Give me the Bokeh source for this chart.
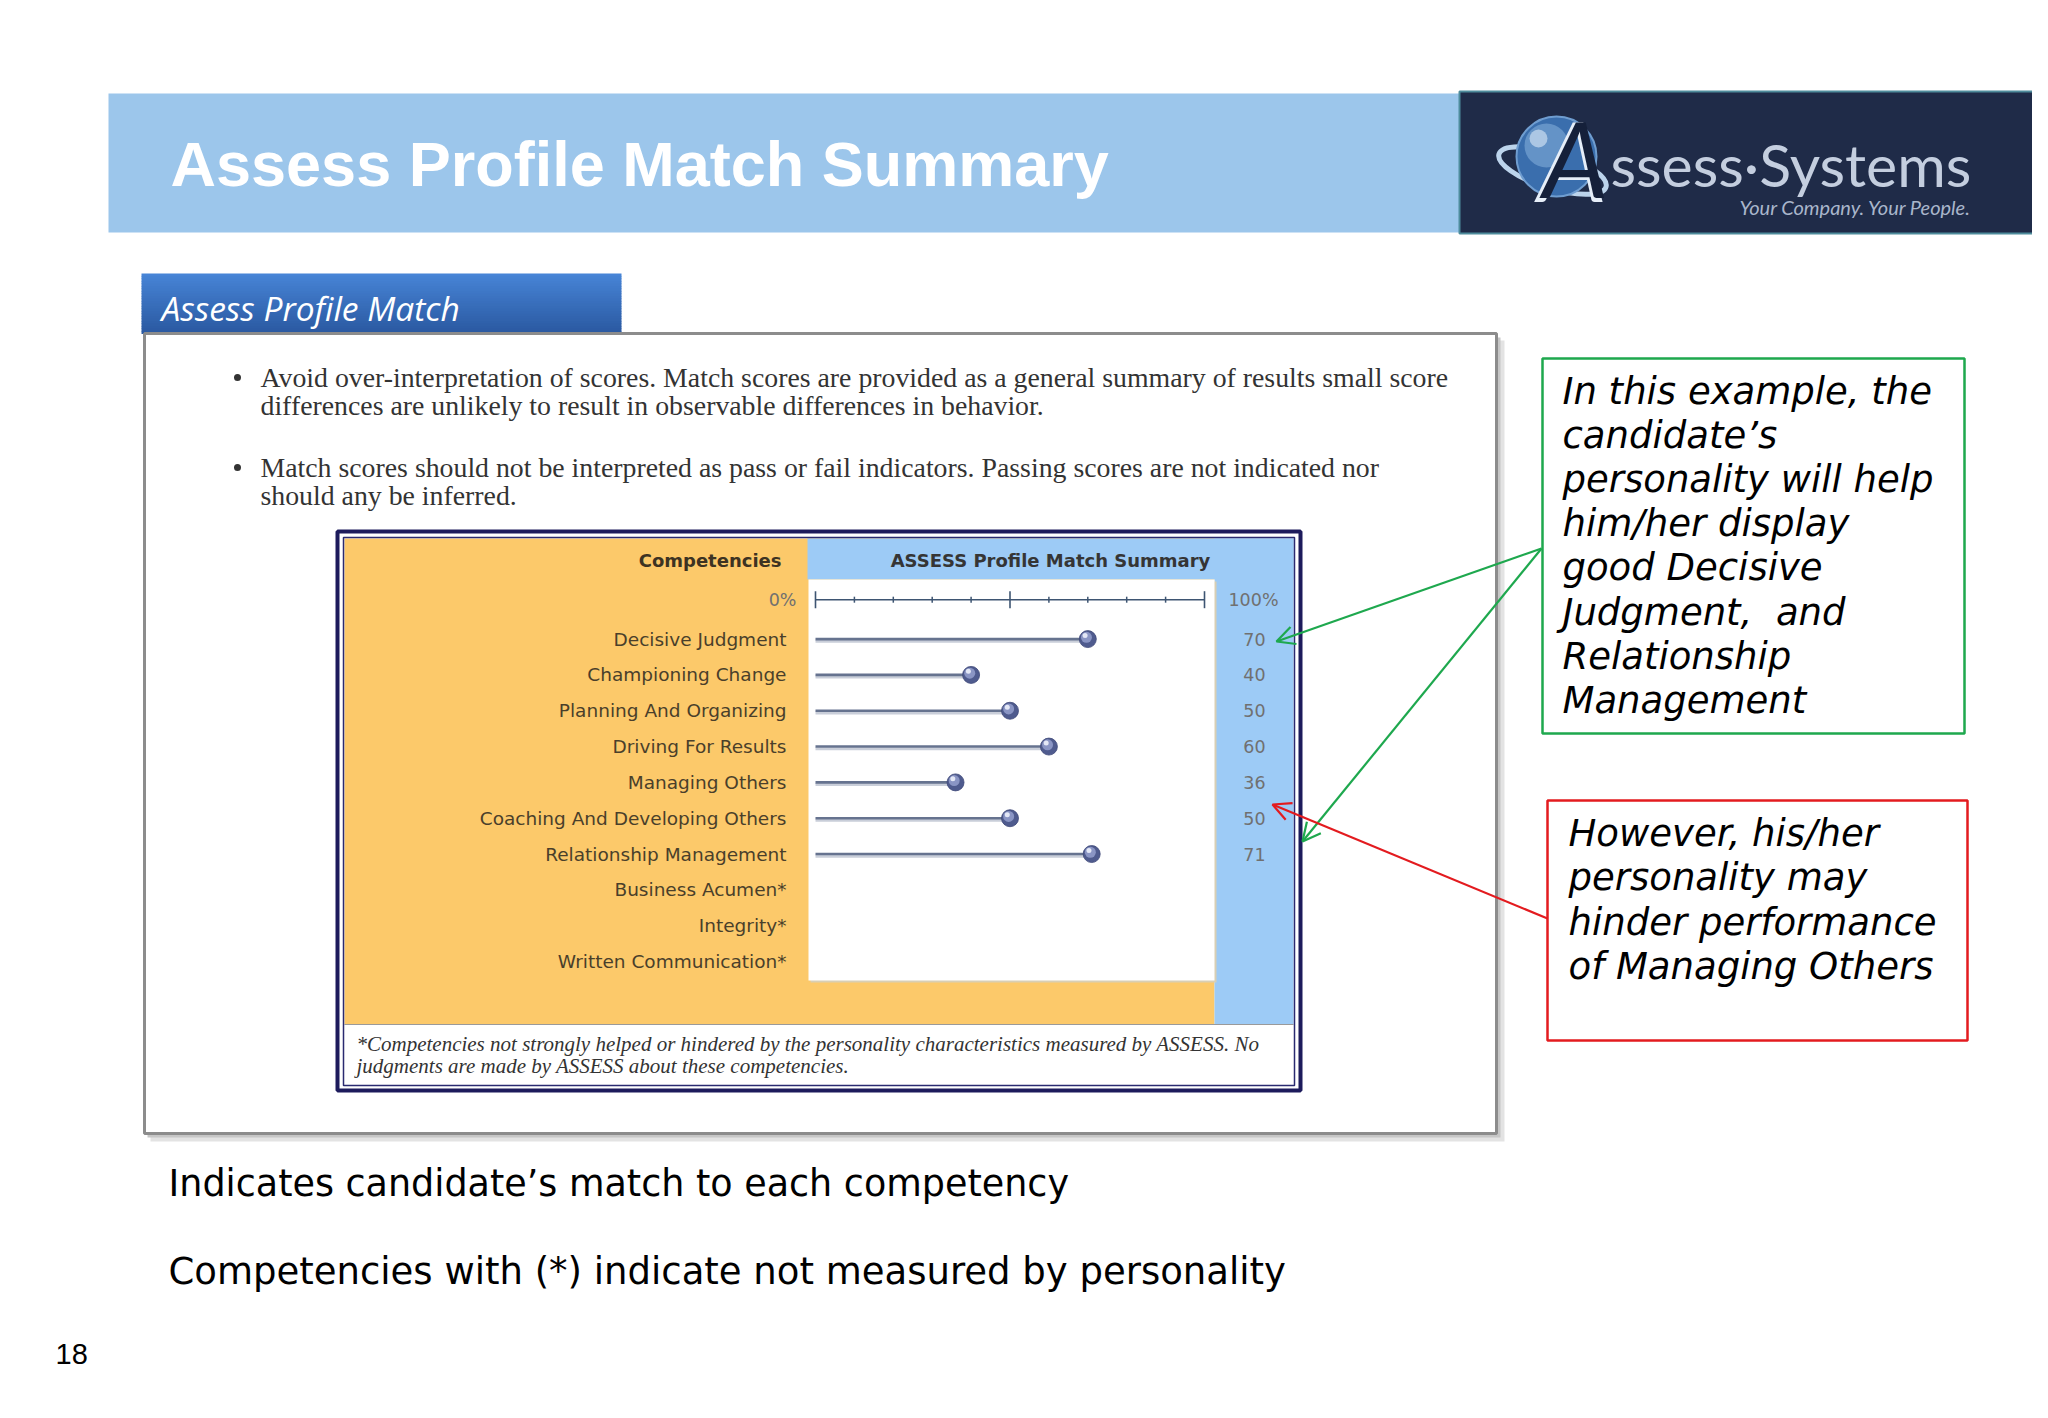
from bokeh.plotting import figure
from bokeh.models import Range1d, Arrow, OpenHead
from bokeh.core.properties import value
from bokeh.embed import file_html
from bokeh.resources import INLINE

# ---------------- data ----------------
categories = ["Decisive Judgment", "Championing Change", "Planning And Organizing",
              "Driving For Results", "Managing Others", "Coaching And Developing Others",
              "Relationship Management", "Business Acumen*", "Integrity*",
              "Written Communication*"]
scores = [70, 40, 50, 60, 36, 50, 71, None, None, None]
axis_ticks = [0, 10, 20, 30, 40, 50, 60, 70, 80, 90, 100]
major_ticks = [0, 50, 100]
axis_labels = ["0%", "100%"]

bullets = [
    ["Avoid over-interpretation of scores. Match scores are provided as a general summary of results small score",
     "differences are unlikely to result in observable differences in behavior."],
    ["Match scores should not be interpreted as pass or fail indicators. Passing scores are not indicated nor",
     "should any be inferred."],
]
footnote = ["*Competencies not strongly helped or hindered by the personality characteristics measured by ASSESS. No",
            "judgments are made by ASSESS about these competencies."]
green_note = ["In this example, the", "candidate\u2019s", "personality will help", "him/her display",
              "good Decisive", "Judgment,\u00a0 and", "Relationship", "Management"]
red_note = ["However, his/her", "personality may", "hinder performance", "of Managing Others"]
bottom_lines = ["Indicates candidate\u2019s match to each competency",
                "Competencies with (*) indicate not measured by personality"]

# ---------------- canvas ----------------
W, H = 2032, 1402
X0, X1, YB, YT = 0, 2032, 1402, 0
p = figure(width=W, height=H, x_range=Range1d(X0, X1), y_range=Range1d(YB, YT),
           toolbar_location=None, output_backend="svg", min_border=0,
           x_axis_type=None, y_axis_type=None, background_fill_color="white",
           border_fill_color="white")
p.grid.visible = False
p.outline_line_color = None


def map_range(p0, p1, v0, v1, lo, hi):
    slope = (v1 - v0) / (p1 - p0)
    return v0 + (lo - p0) * slope, v0 + (hi - p0) * slope


# chart scales: percent along x, competency row index along y
xs, xe = map_range(815, 1204, 0, 100, X0, X1)
ys, ye = map_range(638.6, 961.0, 0, len(categories) - 1, YB, YT)
p.extra_x_ranges = {"pct": Range1d(xs, xe)}
p.extra_y_ranges = {"rows": Range1d(ys, ye)}
AXIS_ROW = -1.1


def box(l, t, r, b, fill=None, line=None, lw=1, alpha=1.0):
    p.quad(left=[l], right=[r], top=[t], bottom=[b],
           fill_color=fill, fill_alpha=alpha if fill else 0,
           line_color=line, line_width=lw, line_alpha=1 if line else 0)


def txt(x, y, s, font="DejaVu Sans", size="20px", color="black", style="normal",
        align="left", **kw):
    p.text(x=[x], y=[y], text=[s], text_font=value(font), text_font_size=size,
           text_color=color, text_font_style=style, text_align=align,
           text_baseline="middle", **kw)


# ---------------- title banner ----------------
box(108, 93, 1459, 232, fill="#9CC6EB")
txt(170, 163, "Assess Profile Match Summary", font="Liberation Sans", size="63px",
    color="white", style="bold")

# logo
box(1459, 91, 2048, 233, fill="#1F2B48", line="#4E8C9C", lw=2)
p.ellipse(x=[1552], y=[170], width=[112], height=[36], angle=[-0.3],
          fill_color=None, line_color="#BCD4EC", line_width=5)
p.circle(x=[1556], y=[156], radius=40, fill_color="#3A6EAD", line_color="#6F9DD0", line_width=2)
p.circle(x=[1546], y=[145], radius=22, fill_color="#8DB8E2", fill_alpha=0.5, line_color=None)
p.circle(x=[1538], y=[138], radius=9, fill_color="#DCEAF7", fill_alpha=0.6, line_color=None)
txt(1572, 158, "A", font="Lato", size="110px", color="#E6EEF8", style="italic", align="center")
txt(1575, 157, "A", font="Lato", size="104px", color="#15203A", style="italic", align="center")
txt(1610, 164, "ssess\u00b7Systems", font="Lato", size="59px", color="#C4CEDF")
txt(1739, 206, "Your Company.  Your People.", font="Lato", size="20px",
    color="#A9B6CB", style="italic")

# ---------------- tab + panel ----------------
n_strip = 24
top_c = (0x47, 0x84, 0xD6)
bot_c = (0x2B, 0x5A, 0xA2)
for i in range(n_strip):
    f = i / (n_strip - 1)
    c = "#%02x%02x%02x" % tuple(int(a + (b - a) * f) for a, b in zip(top_c, bot_c))
    t = 273 + (333 - 273) * i / n_strip
    b = 273 + (333 - 273) * (i + 1) / n_strip
    box(141, t, 621, b + 0.6, fill=c)
txt(161, 307, "Assess Profile Match", font="Open Sans", size="33.5px", color="white", style="italic")

box(150, 340, 1504, 1141, fill="#E3E3E3")
box(147, 337, 1500, 1137, fill="#C6C6C6")
box(144, 333, 1496, 1133, fill="white", line="#8C8C8C", lw=3)

bullet_rows = [[377, 405], [467, 495]]
for bi, lines in enumerate(bullets):
    p.scatter(x=[237], y=[bullet_rows[bi][0]], size=7, marker="circle",
              fill_color="#333333", line_color=None)
    for li, s in enumerate(lines):
        txt(260, bullet_rows[bi][li], s, font="Liberation Serif", size="27.8px", color="#333333")

# ---------------- chart block ----------------
box(337, 531, 1300, 1090, fill="white", line="#1D1B5C", lw=4)
box(344, 538, 1214, 1024, fill="#FCC96A")
box(807, 538, 1293, 579, fill="#9DCBF6")
box(1214, 538, 1293, 1024, fill="#9DCBF6")
box(810, 581, 1216, 982, fill="#D9CFB4")
box(808, 579, 1214, 980, fill="white")
box(344, 1024, 1293, 1084, fill="white")
p.segment(x0=[344], y0=[1024], x1=[1293], y1=[1024], line_color="#9A9A9A", line_width=1)
box(343, 537, 1294, 1085, line="#2A2A70", lw=1.5)

txt(781, 560, "Competencies", size="18px", color="#3D3322", style="bold", align="right")
txt(1050, 560, "ASSESS Profile Match Summary", size="18px", color="#353535",
    style="bold", align="center")

# percent axis row
p.segment(x0=[axis_ticks[0]], y0=[AXIS_ROW], x1=[axis_ticks[-1]], y1=[AXIS_ROW],
          x_range_name="pct", y_range_name="rows", line_color="#3E5572", line_width=1.6)
minor = [t for t in axis_ticks if t not in major_ticks]
p.scatter(x=minor, y=[AXIS_ROW] * len(minor), marker="dash", angle=1.5708, size=6,
          line_color="#3E5572", line_width=1.5, x_range_name="pct", y_range_name="rows")
p.scatter(x=major_ticks, y=[AXIS_ROW] * len(major_ticks), marker="dash", angle=1.5708,
          size=17, line_color="#3E5572", line_width=1.6, x_range_name="pct", y_range_name="rows")
p.text(x=[796], y=[AXIS_ROW], text=[axis_labels[0]], text_font=value("DejaVu Sans"),
       text_font_size="17.5px", text_color="#707070", text_align="right",
       text_baseline="middle", y_range_name="rows")
p.text(x=[1253], y=[AXIS_ROW], text=[axis_labels[1]], text_font=value("DejaVu Sans"),
       text_font_size="17.5px", text_color="#707070", text_align="center",
       text_baseline="middle", y_range_name="rows")

rows = list(range(len(categories)))
p.text(x=[786] * len(categories), y=rows, text=categories, text_font=value("DejaVu Sans"),
       text_font_size="18.5px", text_color="#4A3F2A", text_align="right",
       text_baseline="middle", y_range_name="rows")

m_rows = [r for r, s in zip(rows, scores) if s is not None]
m_vals = [s for s in scores if s is not None]
p.text(x=[1254] * len(m_vals), y=m_rows, text=[str(v) for v in m_vals],
       text_font=value("DejaVu Sans"), text_font_size="17.5px", text_color="#707070",
       text_align="center", text_baseline="middle", y_range_name="rows")

# lollipops
p.segment(x0=[0] * len(m_vals), y0=[r + 0.06 for r in m_rows], x1=m_vals,
          y1=[r + 0.06 for r in m_rows], line_color="#C9CED9", line_width=3,
          x_range_name="pct", y_range_name="rows")
p.segment(x0=[0] * len(m_vals), y0=m_rows, x1=m_vals, y1=m_rows,
          line_color="#66738F", line_width=2.6, x_range_name="pct", y_range_name="rows")
p.scatter(x=m_vals, y=m_rows, size=17, marker="circle", fill_color="#4F5B8E",
          line_color="#3F4978", line_width=0.8, x_range_name="pct", y_range_name="rows")
p.scatter(x=[v - 0.35 for v in m_vals], y=[r - 0.05 for r in m_rows], size=11,
          marker="circle", fill_color="#8A95C4", line_color=None,
          x_range_name="pct", y_range_name="rows")
p.scatter(x=[v - 0.7 for v in m_vals], y=[r - 0.1 for r in m_rows], size=5,
          marker="circle", fill_color="#E4E8F6", line_color=None,
          x_range_name="pct", y_range_name="rows")

for li, s in enumerate(footnote):
    txt(356, 1043.5 + li * 22, s, font="Liberation Serif", size="21px",
        color="#333333", style="italic")

# ---------------- annotation boxes ----------------
box(1542, 358, 1964, 733, fill="white", line="#1EA84E", lw=2.5)
for li, s in enumerate(green_note):
    txt(1562, 391 + li * 44.1, s, size="37px", color="black", style="italic")

box(1547, 800, 1967, 1040, fill="white", line="#E31B1F", lw=2.5)
for li, s in enumerate(red_note):
    txt(1568, 833 + li * 44.4, s, size="37px", color="black", style="italic")

for (xe_, ye_) in [(1276, 641), (1302, 841)]:
    p.add_layout(Arrow(end=OpenHead(size=18, line_color="#1EA84E", line_width=2.2),
                       x_start=1541, y_start=548, x_end=xe_, y_end=ye_,
                       line_color="#1EA84E", line_width=2.2))
p.add_layout(Arrow(end=OpenHead(size=18, line_color="#E31B1F", line_width=2.2),
                   x_start=1547, y_start=918, x_end=1272, y_end=804,
                   line_color="#E31B1F", line_width=2.2))

# ---------------- bottom text ----------------
txt(168, 1183, bottom_lines[0], size="36.5px", color="black")
txt(168, 1271, bottom_lines[1], size="37px", color="black")
txt(55, 1353, "18", font="Liberation Sans", size="29px", color="black")

open("out.html", "w").write(file_html(p, INLINE))
